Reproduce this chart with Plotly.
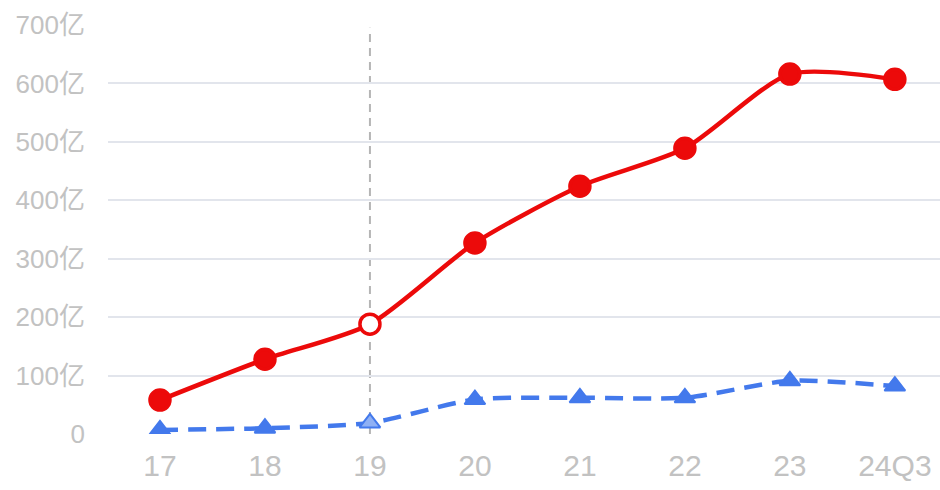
import plotly.graph_objects as go

categories = ["17", "18", "19", "20", "21", "22", "23", "24Q3"]
red_values = [58, 128, 188, 327, 424, 489, 616, 607]
blue_values = [7, 10, 19, 59, 62, 62, 91, 82]
y_ticks = [0, 100, 200, 300, 400, 500, 600, 700]
y_tick_labels = ["0", "100亿", "200亿", "300亿", "400亿", "500亿", "600亿", "700亿"]
highlight = "19"

RED = "#ec0a0a"
BLUE = "#4379ec"
x_idx = list(range(len(categories)))
hi = categories.index(highlight)

red_fill = ["white" if i == hi else RED for i in x_idx]
blue_fill = ["#8fb0f4" if i == hi else BLUE for i in x_idx]

fig = go.Figure()
fig.add_trace(go.Scatter(
    x=x_idx, y=blue_values, mode="lines+markers",
    line=dict(color=BLUE, width=4.5, dash="18px,10px", shape="spline", smoothing=0.7),
    marker=dict(symbol="triangle-up", size=18, color=blue_fill,
                line=dict(color=BLUE, width=2)),
    hoverinfo="skip"))
fig.add_trace(go.Scatter(
    x=x_idx, y=red_values, mode="lines+markers",
    line=dict(color=RED, width=4.5, shape="spline", smoothing=0.7),
    marker=dict(symbol="circle", size=20, color=red_fill,
                line=dict(color=RED, width=3.5)),
    hoverinfo="skip"))

fig.add_shape(type="line", xref="x", yref="paper", x0=hi, x1=hi, y0=0, y1=0.993,
              line=dict(color="#b5b5b5", width=2, dash="8px,6px"), layer="below")

FONT = "Liberation Sans, Arial, Noto Sans CJK SC, sans-serif"
fig.update_layout(
    width=940, height=490,
    margin=dict(l=108, r=0, t=25, b=56),
    paper_bgcolor="white", plot_bgcolor="white",
    showlegend=False,
    font=dict(family=FONT, color="#c0c0c0", size=26),
    xaxis=dict(range=[-0.495, 7.43], tickmode="array", tickvals=x_idx,
               ticktext=categories, showgrid=False, zeroline=False,
               showline=False, ticks="", tickfont=dict(size=30, color="#c2c2c2"),
               ticklabelstandoff=11),
    yaxis=dict(range=[0, 700], tickmode="array", tickvals=y_ticks,
               ticktext=y_tick_labels, showgrid=True, gridcolor="#e2e5ec",
               gridwidth=1.5, zeroline=False, showline=False, ticks="",
               tickfont=dict(size=26, color="#c2c2c2"), ticklabelstandoff=22),
)

fig.write_html("out.html")
